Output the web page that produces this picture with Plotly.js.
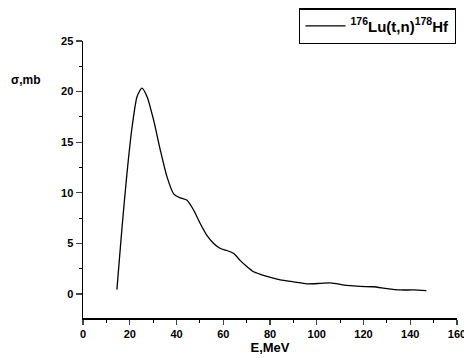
<!DOCTYPE html>
<html><head><meta charset="utf-8">
<script src="https://cdn.plot.ly/plotly-3.0.1.min.js"></script>
<style>html,body{margin:0;padding:0;background:#fff}#c{width:464px;height:358px}</style>
</head><body><div id="c"></div>
<script>
const energy = [14.5,16.7,18.8,21,23.1,25.2,27.4,30.2,33.1,35.9,38.8,41.6,44.5,47.3,50.2,53,55.9,58.8,61.6,64.5,67.3,70.2,73,75.9,78.7,84.4,90.1,95.8,101.5,105.8,112.9,118.6,124.3,130,135.8,141.5,146.9];
const sigma = [0.43,6.6,11.9,16.5,19.5,20.35,19.5,17.2,14.2,11.6,9.9,9.5,9.26,8.3,6.95,5.8,5.0,4.5,4.3,4.0,3.3,2.7,2.2,1.95,1.75,1.4,1.2,1.0,1.05,1.1,0.85,0.75,0.72,0.53,0.4,0.4,0.33];
const seriesName = "<sup>176</sup>Lu(t,n)<sup>178</sup>Hf";
const xTicks = [0,20,40,60,80,100,120,140,160];
const yTicks = [0,5,10,15,20,25];

const font = {family:"Liberation Sans, Arial, sans-serif", color:"#000", size:11, weight:"bold"};
Plotly.newPlot("c", [{
  x: energy, y: sigma, type:"scatter", mode:"lines", name: seriesName,
  line:{color:"#000", width:1.3, shape:"spline", smoothing:0.6}
}], {
  width:464, height:358,
  margin:{l:83, r:7, t:41, b:40},
  paper_bgcolor:"#fff", plot_bgcolor:"#fff",
  font: font,
  showlegend:true,
  legend:{x:0.578, y:1.118, xanchor:"left", yanchor:"top", bordercolor:"#000", borderwidth:1.3,
    bgcolor:"#fff", font:{family:font.family, size:15, color:"#000", weight:"bold"}, itemwidth:40,
    tracegroupgap:0},
  xaxis:{range:[0,160], tickvals:xTicks, ticktext:xTicks.map(String), ticks:"outside", ticklen:5, tickwidth:1.3,
    showline:true, linecolor:"#000", linewidth:1.5, showgrid:false, zeroline:false, mirror:false,
    ticklabeloverflow:"allow",
    tickfont:{family:font.family, size:11, color:"#000", weight:"bold"},
    minor:{dtick:10, tick0:0, ticks:"outside", ticklen:3, tickwidth:1, tickcolor:"#000", showgrid:false},
    title:{text:"E,MeV", font:{family:font.family, size:13, color:"#000", weight:"bold"}, standoff:4}},
  yaxis:{range:[-2.37,25], tickvals:yTicks, ticktext:yTicks.map(String), ticks:"outside", ticklen:6, tickwidth:1.3,
    showline:true, linecolor:"#000", linewidth:1.5, showgrid:false, zeroline:false,
    tickfont:{family:font.family, size:11, color:"#000", weight:"bold"},
    minor:{dtick:2.5, tick0:0, ticks:"outside", ticklen:3, tickwidth:1, tickcolor:"#000", showgrid:false}},
  annotations:[{text:"σ,mb", xref:"paper", yref:"paper", x:-0.152, y:0.86, xanchor:"center", yanchor:"middle",
    showarrow:false, font:{family:font.family, size:12, color:"#000", weight:"bold"}}]
}, {staticPlot:true, displayModeBar:false});
</script></body></html>
